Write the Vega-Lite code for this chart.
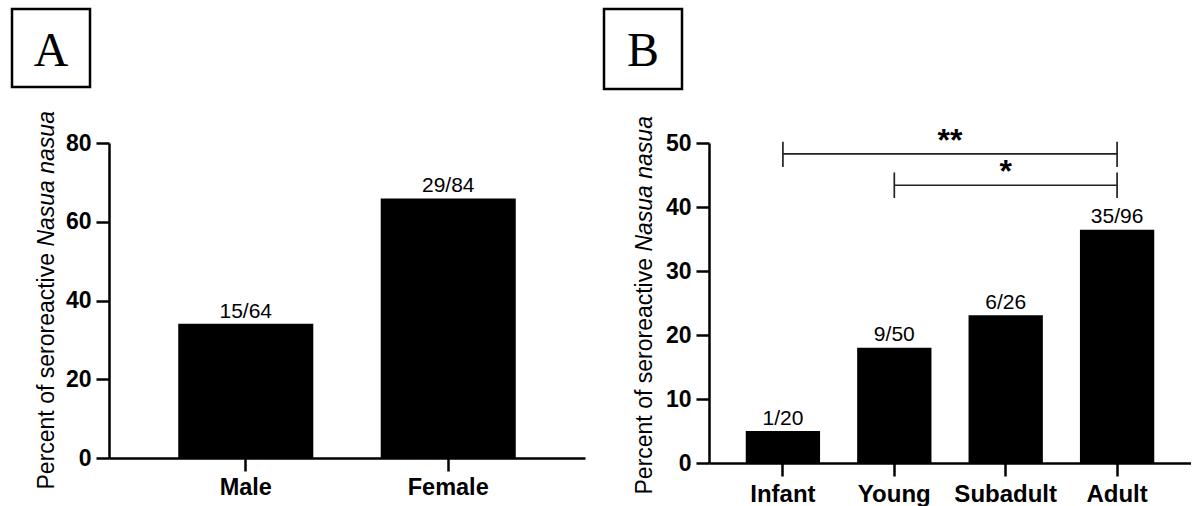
{
  "$schema": "https://vega.github.io/schema/vega-lite/v6.json",
  "background": "white",
  "padding": {"left": 10, "top": 7, "right": 0, "bottom": 0},
  "config": {
    "view": {"stroke": null},
    "font": "Liberation Sans",
    "axis": {
      "grid": false,
      "domainColor": "black",
      "domainWidth": 2.5,
      "tickColor": "black",
      "tickWidth": 2.5,
      "tickSize": 13,
      "labelFont": "Liberation Sans",
      "labelFontSize": 23,
      "labelFontWeight": "bold",
      "labelColor": "black",
      "titleFont": "Liberation Sans",
      "titleFontSize": 23,
      "titleFontWeight": "normal",
      "titleColor": "black"
    },
    "axisX": {"labelAngle": 0},
    "axisY": {"labelPadding": 5, "titleAngle": 270, "titleAlign": "left", "titleBaseline": "alphabetic"},
    "text": {"font": "Liberation Sans", "color": "black"}
  },
  "bounds": "flush",
  "align": "each",
  "columns": 4,
  "spacing": {"row": 54, "column": 19},
  "concat": [
    {
      "width": 78, "height": 78,
      "view": {"stroke": "black", "strokeWidth": 2.5},
      "data": {"values": [{"panel": "A"}]},
      "mark": {"type": "text", "font": "Liberation Serif", "fontSize": 48, "baseline": "alphabetic", "align": "center", "dy": 18},
      "encoding": {"text": {"field": "panel"}}
    },
    {
      "width": 476, "height": 10,
      "data": {"values": [{}]},
      "mark": {"type": "text"},
      "encoding": {"text": {"value": ""}}
    },
    {
      "width": 78, "height": 80,
      "view": {"stroke": "black", "strokeWidth": 2.5},
      "data": {"values": [{"panel": "B"}]},
      "mark": {"type": "text", "font": "Liberation Serif", "fontSize": 48, "baseline": "alphabetic", "align": "center", "dy": 17},
      "encoding": {"text": {"field": "panel"}}
    },
    {
      "width": 482, "height": 10,
      "data": {"values": [{}]},
      "mark": {"type": "text"},
      "encoding": {"text": {"value": ""}}
    },
    {
      "width": 78, "height": 10,
      "data": {"values": [{}]},
      "mark": {"type": "text"},
      "encoding": {"text": {"value": ""}}
    },
    {
      "width": 476, "height": 315,
      "data": {"values": [
        {"sex": "Male", "pct": 34.09, "label": "15/64"},
        {"sex": "Female", "pct": 65.91, "label": "29/84"}
      ]},
      "layer": [
        {
          "mark": {"type": "bar", "color": "black"},
          "encoding": {
            "x": {"field": "sex", "type": "nominal", "scale": {"domain": ["Male", "Female"], "paddingInner": 0.333, "paddingOuter": 0.342}, "axis": {"title": null, "labelPadding": 4, "labelFontSize": 23.5}},
            "y": {"field": "pct", "type": "quantitative", "scale": {"domain": [0, 80], "nice": false}, "axis": {"orient": "left", "values": [0, 20, 40, 60, 80], "title": "Percent of seroreactive", "titleX": -56, "titleY": 346}}
          }
        },
        {
          "mark": {"type": "text", "baseline": "alphabetic", "dy": -6, "fontSize": 21},
          "encoding": {
            "x": {"field": "sex", "type": "nominal", "scale": {"domain": ["Male", "Female"], "paddingInner": 0.333, "paddingOuter": 0.342}, "axis": {"title": null, "labelPadding": 4, "labelFontSize": 23.5}},
            "y": {"field": "pct", "type": "quantitative", "scale": {"domain": [0, 80], "nice": false}, "axis": {"orient": "left", "title": "Nasua nasua", "titleFontStyle": "italic", "titleX": -56, "titleY": 103.1, "domain": false, "ticks": false, "labels": false}},
            "text": {"field": "label"}
          }
        }
      ],
      "resolve": {"axis": {"y": "independent"}}
    },
    {
      "width": 86, "height": 10,
      "data": {"values": [{}]},
      "mark": {"type": "text"},
      "encoding": {"text": {"value": ""}}
    },
    {
      "width": 482, "height": 320,
      "layer": [
        {
          "data": {"values": [
            {"age": "Infant", "pct": 5, "label": "1/20"},
            {"age": "Young", "pct": 18, "label": "9/50"},
            {"age": "Subadult", "pct": 23.08, "label": "6/26"},
            {"age": "Adult", "pct": 36.46, "label": "35/96"}
          ]},
          "mark": {"type": "bar", "color": "black"},
          "encoding": {
            "x": {"field": "age", "type": "nominal", "scale": {"domain": ["Infant", "Young", "Subadult", "Adult"], "paddingInner": 0.333, "paddingOuter": 0.33}, "axis": {"title": null, "labelPadding": 6, "labelFontSize": 24}},
            "y": {"field": "pct", "type": "quantitative", "scale": {"domain": [0, 50], "nice": false}, "axis": {"orient": "left", "values": [0, 10, 20, 30, 40, 50], "title": "Percent of seroreactive", "titleX": -58, "titleY": 351}}
          }
        },
        {
          "data": {"values": [
            {"age": "Infant", "pct": 5, "label": "1/20"},
            {"age": "Young", "pct": 18, "label": "9/50"},
            {"age": "Subadult", "pct": 23.08, "label": "6/26"},
            {"age": "Adult", "pct": 36.46, "label": "35/96"}
          ]},
          "mark": {"type": "text", "baseline": "alphabetic", "dy": -6.5, "fontSize": 21},
          "encoding": {
            "x": {"field": "age", "type": "nominal", "scale": {"domain": ["Infant", "Young", "Subadult", "Adult"], "paddingInner": 0.333, "paddingOuter": 0.33}, "axis": {"title": null, "labelPadding": 6, "labelFontSize": 24}},
            "y": {"field": "pct", "type": "quantitative", "scale": {"domain": [0, 50], "nice": false}, "axis": {"orient": "left", "title": "Nasua nasua", "titleFontStyle": "italic", "titleX": -58, "titleY": 108.1, "domain": false, "ticks": false, "labels": false}},
            "text": {"field": "label"}
          }
        },
        {
          "data": {"values": [
            {"from": "Infant", "to": "Adult", "y": 48.3, "lo": 46.25, "hi": 50.2},
            {"from": "Young", "to": "Adult", "y": 43.4, "lo": 41.4, "hi": 45.4}
          ]},
          "mark": {"type": "rule", "color": "#222", "strokeWidth": 1.7},
          "encoding": {
            "x": {"field": "from", "type": "nominal", "bandPosition": 0.5, "scale": {"domain": ["Infant", "Young", "Subadult", "Adult"], "paddingInner": 0.333, "paddingOuter": 0.33}, "axis": {"title": null, "labelPadding": 6, "labelFontSize": 24}},
            "x2": {"field": "to"},
            "y": {"field": "y", "type": "quantitative", "scale": {"domain": [0, 50], "nice": false}, "axis": null}
          }
        },
        {
          "data": {"values": [
            {"from": "Infant", "to": "Adult", "y": 48.3, "lo": 46.25, "hi": 50.2},
            {"from": "Young", "to": "Adult", "y": 43.4, "lo": 41.4, "hi": 45.4}
          ]},
          "mark": {"type": "rule", "color": "#222", "strokeWidth": 1.7},
          "encoding": {
            "x": {"field": "from", "type": "nominal", "bandPosition": 0.5, "scale": {"domain": ["Infant", "Young", "Subadult", "Adult"], "paddingInner": 0.333, "paddingOuter": 0.33}, "axis": {"title": null, "labelPadding": 6, "labelFontSize": 24}},
            "y": {"field": "lo", "type": "quantitative", "scale": {"domain": [0, 50], "nice": false}, "axis": null},
            "y2": {"field": "hi"}
          }
        },
        {
          "data": {"values": [
            {"from": "Infant", "to": "Adult", "y": 48.3, "lo": 46.25, "hi": 50.2},
            {"from": "Young", "to": "Adult", "y": 43.4, "lo": 41.4, "hi": 45.4}
          ]},
          "mark": {"type": "rule", "color": "#222", "strokeWidth": 1.7},
          "encoding": {
            "x": {"field": "to", "type": "nominal", "bandPosition": 0.5, "scale": {"domain": ["Infant", "Young", "Subadult", "Adult"], "paddingInner": 0.333, "paddingOuter": 0.33}, "axis": {"title": null, "labelPadding": 6, "labelFontSize": 24}},
            "y": {"field": "lo", "type": "quantitative", "scale": {"domain": [0, 50], "nice": false}, "axis": null},
            "y2": {"field": "hi"}
          }
        },
        {
          "data": {"values": [{"at": "Young", "y": 48.3, "label": "**"}]},
          "mark": {"type": "text", "fontSize": 32, "fontWeight": "bold", "baseline": "alphabetic", "dy": -3},
          "encoding": {
            "x": {"field": "at", "type": "nominal", "bandPosition": 1.25, "scale": {"domain": ["Infant", "Young", "Subadult", "Adult"], "paddingInner": 0.333, "paddingOuter": 0.33}, "axis": {"title": null, "labelPadding": 6, "labelFontSize": 24}},
            "y": {"field": "y", "type": "quantitative", "scale": {"domain": [0, 50], "nice": false}, "axis": null},
            "text": {"field": "label"}
          }
        },
        {
          "data": {"values": [{"at": "Subadult", "y": 43.4, "label": "*"}]},
          "mark": {"type": "text", "fontSize": 32, "fontWeight": "bold", "baseline": "alphabetic", "dy": -3},
          "encoding": {
            "x": {"field": "at", "type": "nominal", "bandPosition": 0.5, "scale": {"domain": ["Infant", "Young", "Subadult", "Adult"], "paddingInner": 0.333, "paddingOuter": 0.33}, "axis": {"title": null, "labelPadding": 6, "labelFontSize": 24}},
            "y": {"field": "y", "type": "quantitative", "scale": {"domain": [0, 50], "nice": false}, "axis": null},
            "text": {"field": "label"}
          }
        }
      ],
      "resolve": {"axis": {"y": "independent"}}
    }
  ]
}
